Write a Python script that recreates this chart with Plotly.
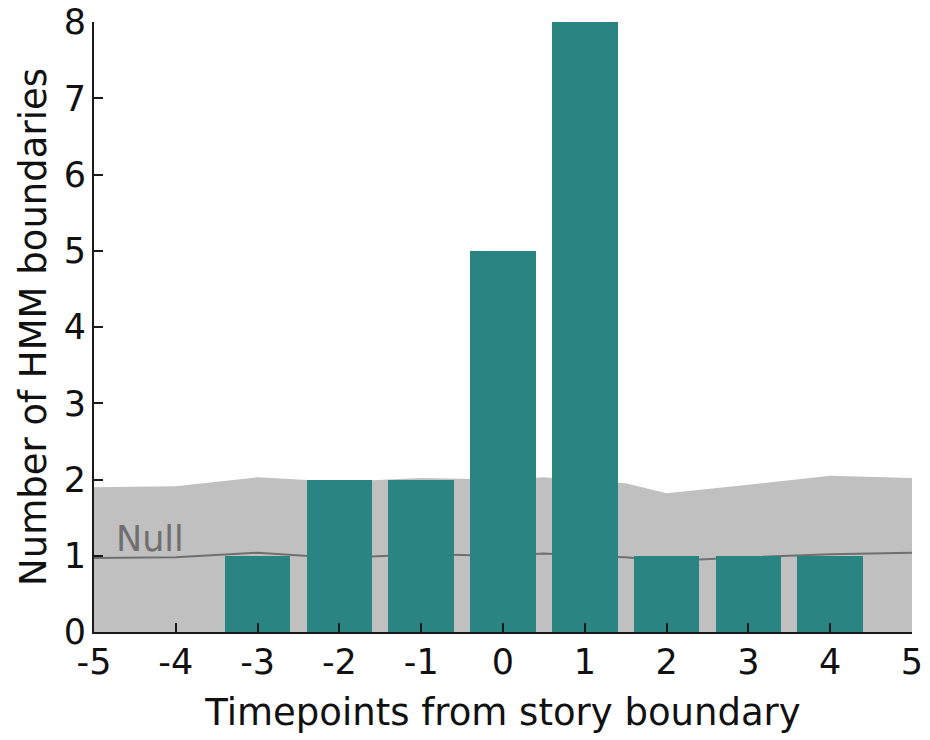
import plotly.graph_objects as go

# Offsets (timepoints) relative to the story boundary
timepoints = [-3, -2, -1, 0, 1, 2, 3, 4]
hmm_counts = [1, 2, 2, 5, 8, 1, 1, 1]

# Null distribution: upper band edge and mean across the full offset range
null_x = [-5, -4, -3, -2, -1, 0, 0.5, 1, 1.5, 2, 3, 4, 5]
null_upper = [1.90, 1.91, 2.03, 1.97, 2.02, 2.0, 2.03, 1.98, 1.95, 1.82, 1.93, 2.05, 2.02]
null_mean = [0.97, 0.98, 1.04, 0.97, 1.02, 1.0, 1.03, 1.0, 0.98, 0.93, 0.98, 1.02, 1.04]

x_ticks = [-5, -4, -3, -2, -1, 0, 1, 2, 3, 4, 5]
y_ticks = [0, 1, 2, 3, 4, 5, 6, 7, 8]

FONT = "DejaVu Sans"
BAR_COLOR = "#2a8482"
BAND_COLOR = "#c0c0c0"
NULL_COLOR = "#6f6f6f"
AXIS_COLOR = "#1a1a1a"


def polyline(xs, ys):
    return " ".join(
        ("M" if i == 0 else "L") + f"{x},{y}" for i, (x, y) in enumerate(zip(xs, ys))
    )


# Null band (filled down to zero) and null mean line, drawn beneath the bars
band_path = (
    polyline(null_x, null_upper)
    + f" L{null_x[-1]},0 L{null_x[0]},0 Z"
)
mean_path = polyline(null_x, null_mean)

fig = go.Figure()

fig.add_trace(go.Bar(
    x=timepoints, y=hmm_counts, width=0.8,
    marker=dict(color=BAR_COLOR, line=dict(width=0)),
    showlegend=False,
))

fig.add_shape(
    type="path", path=band_path, xref="x", yref="y", layer="below",
    fillcolor=BAND_COLOR, line=dict(width=0),
)
fig.add_shape(
    type="path", path=mean_path, xref="x", yref="y", layer="below",
    line=dict(width=2, color=NULL_COLOR),
)

fig.add_annotation(
    x=-4.32, y=1.22, text="Null", showarrow=False,
    font=dict(family=FONT, size=35, color=NULL_COLOR),
)

axis_common = dict(
    showline=True, linecolor=AXIS_COLOR, linewidth=2,
    ticks="inside", ticklen=9, tickwidth=2, tickcolor=AXIS_COLOR,
    showgrid=False, zeroline=False, automargin=False,
    title_font=dict(family=FONT, size=37, color="#111111"),
)

fig.update_xaxes(
    range=[-5, 5], tickvals=x_ticks, ticktext=[str(v) for v in x_ticks],
    tickfont=dict(family=FONT, size=35, color="#111111"),
    title_text="Timepoints from story boundary", title_standoff=18,
    ticklabelstandoff=-2,
    **axis_common,
)
fig.update_yaxes(
    range=[0, 8], tickvals=y_ticks, ticktext=[str(v) for v in y_ticks],
    tickfont=dict(family=FONT, size=35, color="#111111"),
    title_text="Number of HMM boundaries", title_standoff=6,
    ticklabelstandoff=-1,
    **axis_common,
)

fig.update_layout(
    width=930, height=740,
    margin=dict(l=94, r=18, t=22, b=108),
    plot_bgcolor="white", paper_bgcolor="white",
    bargap=0,
)

fig.write_html("out.html")
